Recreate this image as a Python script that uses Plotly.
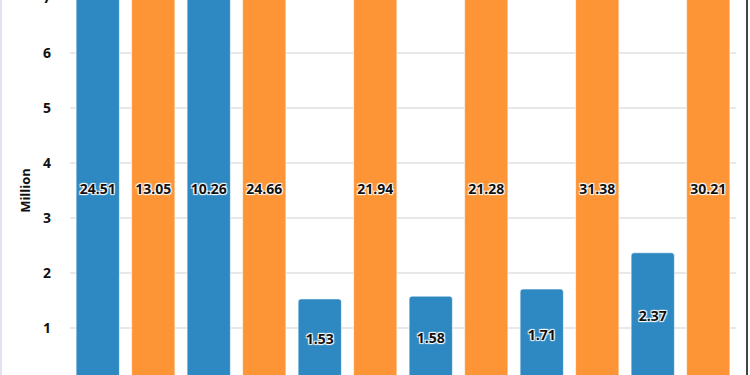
import plotly.graph_objects as go

groups = ["Group 1", "Group 2", "Group 3", "Group 4", "Group 5", "Group 6"]
series_a_name = "Series A"
series_b_name = "Series B"
series_a = [24.51, 10.26, 1.53, 1.58, 1.71, 2.37]
series_b = [13.05, 24.66, 21.94, 21.28, 31.38, 30.21]
y_ticks = [1, 2, 3, 4, 5, 6, 7]

BLUE = "#2e88c1"
ORANGE = "#fd9536"

Y_TOP = 7.0

xa = [2 * i for i in range(len(groups))]
xb = [2 * i + 1 for i in range(len(groups))]

halo = "1px 1px 1px #fff, -1px -1px 1px #fff, 1px -1px 1px #fff, -1px 1px 1px #fff"
label_font = dict(family="Open Sans", size=14, color="#111", weight="bold", shadow=halo)

fig = go.Figure()
for xs, vals, name, col in [(xa, series_a, series_a_name, BLUE), (xb, series_b, series_b_name, ORANGE)]:
    fig.add_trace(go.Bar(
        x=xs, y=vals, name=name, width=0.78,
        marker=dict(color=col, cornerradius=3, line=dict(color="rgba(255,255,255,0.6)", width=1)),
        hovertemplate="%{y:.2f}<extra>" + name + "</extra>",
    ))
for xs, vals in [(xa, series_a), (xb, series_b)]:
    # value labels at the middle of the visible part of each bar
    fig.add_trace(go.Scatter(
        x=xs, y=[min(v, Y_TOP) / 2 for v in vals], mode="text",
        text=[f"{v:.2f}" for v in vals], textposition="middle center",
        textfont=label_font, hoverinfo="skip", showlegend=False,
    ))

H = 385
PLOT_L, PLOT_R = 70, 736

fig.update_layout(
    width=750, height=H,
    margin=dict(l=PLOT_L, r=750 - PLOT_R, t=0, b=0, autoexpand=False),
    barmode="overlay",
    showlegend=False,
    plot_bgcolor="white", paper_bgcolor="white",
    font=dict(family="Open Sans", color="#111"),
    xaxis=dict(range=[-0.5, 11.5], showgrid=False, showticklabels=False, zeroline=False, tickvals=[],
               automargin=False),
    yaxis=dict(range=[0, Y_TOP + 0.005], tickvals=y_ticks, showgrid=True, gridcolor="#e8e8e8",
               gridwidth=1.5, zeroline=False, ticklabelstandoff=18, ticklabeloverflow="allow",
               automargin=False,
               tickfont=dict(size=14, weight="bold", color="#111"),
               title=dict(text="Million", font=dict(size=13, weight="bold", color="#111"), standoff=9)),
    shapes=[
        dict(type="line", xref="paper", yref="paper",
             x0=(1 - PLOT_L) / (PLOT_R - PLOT_L), x1=(1 - PLOT_L) / (PLOT_R - PLOT_L), y0=0, y1=1,
             line=dict(color="#e2e2ee", width=2)),
        dict(type="line", xref="paper", yref="paper",
             x0=(747 - PLOT_L) / (PLOT_R - PLOT_L), x1=(747 - PLOT_L) / (PLOT_R - PLOT_L), y0=0, y1=1,
             line=dict(color="#444", width=2)),
    ],
)

fig.write_html(
    "out.html",
    config={"displayModeBar": False},
    post_script="document.body.style.margin='0';document.body.style.marginTop='-2px';document.body.style.overflow='hidden';",
)
